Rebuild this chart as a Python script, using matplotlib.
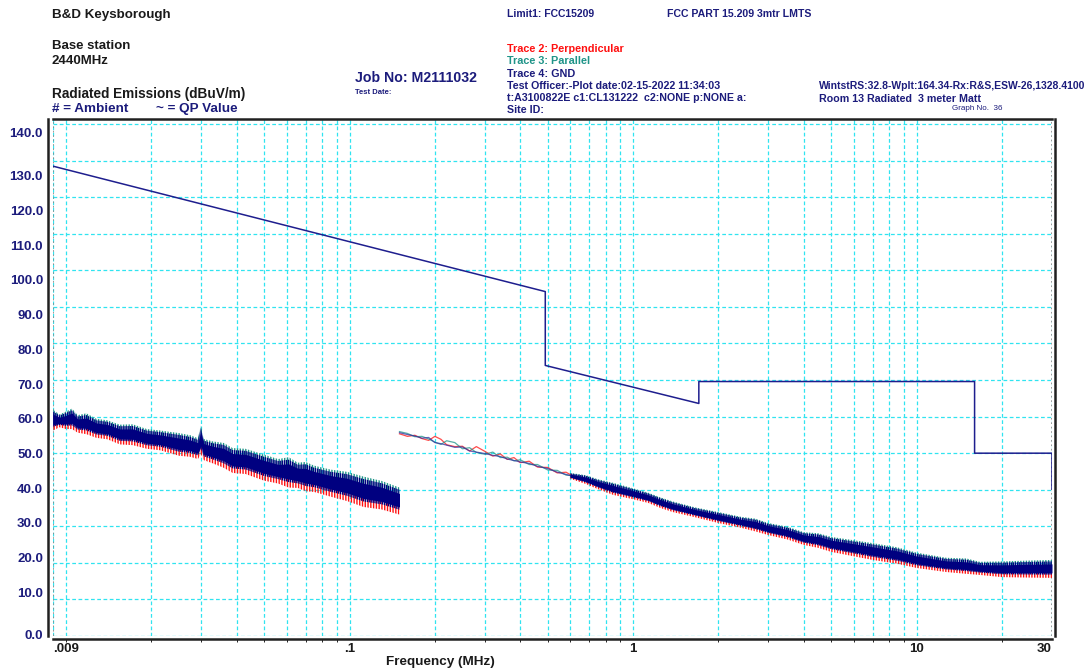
import numpy as np
import matplotlib.pyplot as plt
from matplotlib.ticker import LogLocator, NullFormatter
import matplotlib.transforms as mtransforms

plt.rcParams['font.family'] = ['Liberation Sans', 'DejaVu Sans']
plt.rcParams['hatch.linewidth'] = 1.0

# limit line FCC 15.209 (3 m), breakpoints
limit_f = [0.009, 0.49, 0.49, 1.705, 1.705, 16.0, 16.0, 30.0, 30.0]
limit_db = [128.5, 94.2, 74.0, 63.6, 69.6, 69.6, 50.0, 50.0, 40.2]

# 9 kHz - 150 kHz: dense noise, upper / lower envelope of the traces
lf_freq = [0.009, 0.0095, 0.0100, 0.0105, 0.011, 0.0118, 0.0128, 0.014, 0.0155,
           0.0172, 0.0193, 0.0215, 0.025, 0.0275, 0.0292, 0.0299, 0.0306, 0.033,
           0.036, 0.0387, 0.043, 0.0499, 0.056, 0.061, 0.0657, 0.070, 0.075,
           0.0859, 0.098, 0.112, 0.13, 0.15]
lf_upper = [61.9, 60.6, 61.4, 62.2, 60.4, 60.9, 59.4, 59.0, 57.8,
            57.9, 56.6, 56.2, 55.5, 54.9, 54.1, 57.6, 53.9, 53.2,
            52.8, 51.4, 51.2, 49.6, 48.4, 48.9, 47.4, 47.6, 46.6,
            45.5, 44.9, 43.6, 42.4, 40.6]
lf_lower = [56.2, 57.1, 56.6, 56.6, 55.6, 55.2, 54.2, 53.8, 52.4,
            52.2, 51.2, 50.8, 49.3, 49.0, 48.4, 49.8, 48.1, 47.2,
            46.0, 44.6, 44.3, 42.5, 41.7, 40.6, 40.5, 39.6, 39.4,
            38.1, 36.9, 35.3, 34.6, 33.2]

# 150 kHz - 0.68 MHz: the three traces are still separable
hf_line_freq = [0.15, 0.16, 0.17, 0.18, 0.19, 0.20, 0.21, 0.22, 0.235, 0.25, 0.265,
                0.28, 0.30, 0.32, 0.34, 0.36, 0.38, 0.40, 0.43, 0.46, 0.50, 0.54,
                0.58, 0.63, 0.68]
perp_hf = [55.3, 54.6, 54.9, 54.0, 53.5, 54.6, 53.8, 52.3, 51.8, 51.9, 50.6,
           51.8, 50.5, 49.2, 49.8, 48.3, 48.8, 47.4, 47.8, 46.2, 46.1, 44.6,
           44.8, 43.2, 43.1]
para_hf = [55.9, 55.4, 54.5, 54.6, 53.9, 53.0, 52.4, 53.4, 52.9, 51.2, 51.5,
           50.2, 49.7, 50.3, 48.8, 48.9, 47.9, 48.2, 46.9, 46.9, 45.4, 45.3,
           44.0, 43.8, 42.5]
gnd_hf = [55.6, 55.1, 54.7, 54.1, 54.3, 52.9, 52.6, 52.2, 51.6, 51.7, 50.6,
          50.3, 49.9, 49.4, 49.1, 48.4, 48.0, 47.6, 47.2, 46.4, 45.8, 44.8,
          44.2, 43.4, 42.8]

# 0.6 MHz - 30 MHz: dense noise envelope
hf_freq = [0.60, 0.68, 0.75, 0.85, 1.0, 1.13, 1.25, 1.38, 1.65, 2.0, 2.4, 2.7, 3.0,
           3.5, 4.0, 4.5, 5.0, 6.0, 7.0, 8.5, 10.0, 12.7, 15.0, 16.7, 20.0, 24.0, 30.0]
hf_upper = [44.6, 44.0, 42.9, 41.9, 40.4, 39.2, 37.9, 36.8, 35.2, 33.9, 32.6, 32.1, 30.9,
            29.9, 28.4, 28.1, 27.1, 26.2, 25.4, 24.3, 22.8, 21.4, 21.2, 20.3, 20.4, 20.6, 20.8]
hf_lower = [43.0, 41.6, 40.2, 38.6, 37.4, 36.4, 35.0, 33.9, 32.5, 30.9, 29.6, 28.6, 27.6,
            26.4, 24.9, 24.1, 23.0, 21.8, 20.8, 19.8, 18.6, 17.5, 17.0, 16.7, 16.1, 16.0, 15.9]

y_ticks = [0, 10, 20, 30, 40, 50, 60, 70, 80, 90, 100, 110, 120, 130, 140]
x_ticks = [0.009, 0.1, 1, 10, 30]
x_ticklabels = ['.009', '.1', '1', '10', '30']

RED = '#ff1010'
TEAL = '#1f9488'
NAVY = '#000080'
TXT = '#1c1c7c'
GRID = '#30e4f0'

W, H = 1092, 671
fig = plt.figure(figsize=(W / 100, H / 100), dpi=100)
ax = fig.add_axes([53 / W, 1 - 636 / H, 999 / W, 517 / H])
ax.set_xscale('log')
ax.set_xlim(0.009, 30)
ax.set_ylim(0, 141.4)


def band(f, lo, hi):
    # noisy traces drawn as hatched envelopes with a solid navy core
    f = np.array(f)
    lo = np.array(lo)
    hi = np.array(hi)
    w = hi - lo
    ax.fill_between(f, lo, lo + 0.7 * w, facecolor='none', edgecolor=RED,
                    hatch='||||||', lw=0, zorder=3)
    ax.fill_between(f, lo + 0.3 * w, hi, facecolor='none', edgecolor=TEAL,
                    hatch='||||||', lw=0, zorder=4)
    ax.fill_between(f, lo + 0.18 * w, hi - 0.08 * w, facecolor='none', edgecolor=NAVY,
                    hatch='||||||||', lw=0, zorder=5)
    ax.fill_between(f, lo + 0.28 * w, hi - 0.22 * w, color=NAVY, lw=0, zorder=6)


band(lf_freq, lf_lower, lf_upper)
band(hf_freq, hf_lower, hf_upper)
ax.plot(hf_line_freq, perp_hf, color=RED, lw=0.9, alpha=0.75, zorder=4)
ax.plot(hf_line_freq, para_hf, color=TEAL, lw=0.9, alpha=0.75, zorder=4)
ax.plot(hf_line_freq, gnd_hf, color='#3030a0', lw=0.9, alpha=0.75, zorder=4)

ax.plot(limit_f, limit_db, color='#1e1e8e', lw=1.1, zorder=7)

# grid
ax.xaxis.set_minor_locator(LogLocator(base=10, subs=np.arange(1, 10)))
ax.xaxis.set_minor_formatter(NullFormatter())
ax.set_xticks(x_ticks)
ax.set_xticklabels([])
ax.set_yticks(y_ticks)
ax.set_yticklabels([])
ax.grid(True, which='both', axis='x', color=GRID, ls=(0, (3, 2)), lw=0.9)
ax.grid(True, which='major', axis='y', color=GRID, ls=(0, (3, 2)), lw=0.9)
ax.axvline(0.009, color='#888888', ls=':', lw=1.2, zorder=2)
ax.axvline(30, color='#888888', ls=':', lw=1.2, zorder=2)
ax.tick_params(length=0)

for s in ['left', 'right', 'bottom', 'top']:
    ax.spines[s].set_linewidth(1.8)
    ax.spines[s].set_color('#202020')
ax.spines['left'].set_position(('outward', 3.6))
ax.spines['bottom'].set_position(('outward', 2.2))
ax.spines['right'].set_position(('outward', 2.2))

# x labels: end labels sit inside the axis ends
xtrans = mtransforms.blended_transform_factory(ax.transData, fig.transFigure)
for i, (v, s) in enumerate(zip(x_ticks, x_ticklabels)):
    ha = 'left' if i == 0 else ('right' if i == len(x_ticks) - 1 else 'center')
    ax.text(v, 1 - 649 / H, s, transform=xtrans, ha=ha, va='center',
            fontsize=9.5, fontweight='bold', color='#1a1a1a')

# y labels sit a little off the grid lines in the original
label_pos = [0, 11.5, 21, 30.5, 40, 49.5, 59, 68.5, 78, 87.5, 97, 106.5, 116, 125.5, 137.3]
ytrans = mtransforms.blended_transform_factory(fig.transFigure, ax.transData)
for v, p in zip(y_ticks, label_pos):
    ax.text(43 / W, p, f'{v:.1f}', transform=ytrans, ha='right', va='center',
            fontsize=9.5, fontweight='bold', color=TXT)


def put(x, y, s, size=7.5, color=TXT, weight='bold', **kw):
    fig.text(x / W, 1 - y / H, s, fontsize=size, color=color, fontweight=weight,
             va='center', ha='left', **kw)


put(52, 15, 'B&D Keysborough', 9.6, '#1a1a1a')
put(52, 46, 'Base station', 9.5, '#1a1a1a')
put(52, 61, '2440MHz', 9.5, '#1a1a1a')
put(52, 94, 'Radiated Emissions (dBuV/m)', 9.8, '#1a1a1a')
put(52, 109, '# = Ambient', 9.7)
put(156, 109, '~ = QP Value', 9.7)
put(355, 78, 'Job No: M2111032', 10.2)
put(355, 92, 'Test Date:', 5.5)
put(507, 14, 'Limit1: FCC15209', 7.5)
put(667, 14, 'FCC PART 15.209 3mtr LMTS', 7.6)
put(507, 49, 'Trace 2: Perpendicular', 7.8, RED)
put(507, 61, 'Trace 3: Parallel', 7.8, TEAL)
put(507, 74, 'Trace 4: GND', 7.8)
put(507, 86, 'Test Officer:-Plot date:02-15-2022 11:34:03', 7.7)
put(507, 98, 't:A3100822E c1:CL131222  c2:NONE p:NONE a:', 7.7)
put(507, 110, 'Site ID:', 7.7)
put(819, 86, 'WintstRS:32.8-Wplt:164.34-Rx:R&S,ESW-26,1328.4100', 7.45)
put(819, 99, 'Room 13 Radiated  3 meter Matt', 7.7)
put(952, 108, 'Graph No.  36', 5.8, weight='normal')
put(386, 662, 'Frequency (MHz)', 9.7, '#1a1a1a')

fig.savefig('out.png', dpi=100)
